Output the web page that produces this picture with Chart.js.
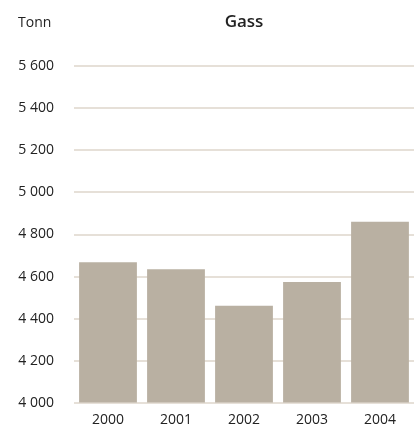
<!DOCTYPE html>
<html lang="no">
<head>
    <meta charset="UTF-8">
    <title>Gass</title>
    <script src="https://cdn.jsdelivr.net/npm/chart.js"></script>
    <style>
        html, body {
            margin: 0;
            background: #ffffff;
        }

        #chart-container {
            width: 416px;
            height: 431px;
        }
    </style>
</head>
<body>
    <div id="chart-container">
        <canvas id="barChart"></canvas>
    </div>

    <script>
        // Årlige tall, tonn
        const years = ['2000', '2001', '2002', '2003', '2004'];
        const gassTonn = [4668, 4635, 4461, 4574, 4861];
        const yMin = 4000;
        const yMax = 5600;
        const yStep = 200;

        const fontFamily = '"Open Sans", "DejaVu Sans", sans-serif';

        // "Tonn" over verdiaksen
        const unitLabel = {
            id: 'unitLabel',
            afterDraw(chart) {
                const c = chart.ctx;
                c.save();
                c.font = '14px ' + fontFamily;
                c.fillStyle = '#222';
                c.textBaseline = 'middle';
                c.textAlign = 'left';
                c.fillText('Tonn', 18, 23);
                c.restore();
            }
        };

        const ctx = document.getElementById('barChart').getContext('2d');

        new Chart(ctx, {
            type: 'bar',
            data: {
                labels: years,
                datasets: [{
                    label: 'Gass',
                    data: gassTonn,
                    backgroundColor: '#b9b0a2',
                    borderWidth: 0,
                    barPercentage: 0.85,
                    categoryPercentage: 1.0
                }]
            },
            options: {
                responsive: true,
                maintainAspectRatio: false,
                animation: false,
                layout: {
                    padding: { top: 12, right: 2, left: 14, bottom: -4 }
                },
                plugins: {
                    legend: { display: false },
                    tooltip: { enabled: false },
                    title: {
                        display: true,
                        text: 'Gass',
                        fullSize: false,
                        color: '#222',
                        font: { family: fontFamily, size: 17, weight: '600' },
                        padding: { top: 0, bottom: 34 }
                    }
                },
                scales: {
                    x: {
                        grid: { display: false, drawTicks: false },
                        border: { display: false },
                        afterFit: scale => { scale.height = 23; },
                        ticks: {
                            color: '#222',
                            font: { family: fontFamily, size: 14 },
                            padding: 9
                        }
                    },
                    y: {
                        min: yMin,
                        max: yMax,
                        border: { display: false },
                        afterFit: scale => { scale.width = 60; },
                        grid: {
                            color: '#e6e0d8',
                            lineWidth: 2,
                            drawTicks: false
                        },
                        ticks: {
                            stepSize: yStep,
                            color: '#222',
                            padding: 20,
                            font: { family: fontFamily, size: 14 },
                            callback: v => String(v).replace(/\B(?=(\d{3})+(?!\d))/g, ' ')
                        }
                    }
                }
            },
            plugins: [unitLabel]
        });
    </script>
</body>
</html>
